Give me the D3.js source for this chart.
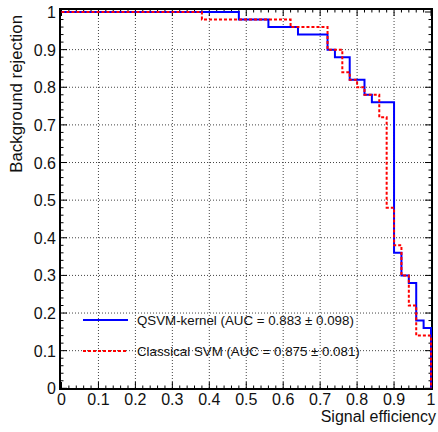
<!DOCTYPE html>
<html>
<head>
<meta charset="UTF-8">
<script src="https://d3js.org/d3.v7.min.js"></script>
<style>
  body { margin: 0; background: #fff; }
  text { font-family: "Liberation Sans", Arial, sans-serif; fill: #111; }
</style>
</head>
<body>
<div id="chart"></div>
<script>
// ROC points: signal efficiency where the step happens, background rejection after it
const qsvmEff = [0, 0.48, 0.56, 0.64, 0.72, 0.74, 0.78, 0.82, 0.84, 0.90, 0.92, 0.94, 0.96, 0.98, 1.0];
const qsvmRej = [1, 0.98, 0.96, 0.94, 0.90, 0.88, 0.82, 0.78, 0.76, 0.36, 0.30, 0.28, 0.18, 0.16, 0];
const svmEff = [0, 0.38, 0.62, 0.72, 0.76, 0.78, 0.80, 0.82, 0.86, 0.88, 0.90, 0.92, 0.94, 0.96, 1.0];
const svmRej = [1, 0.98, 0.96, 0.90, 0.84, 0.82, 0.80, 0.78, 0.72, 0.48, 0.38, 0.30, 0.22, 0.14, 0];
const majorTicks = [0, 0.1, 0.2, 0.3, 0.4, 0.5, 0.6, 0.7, 0.8, 0.9, 1];
const legendLabels = ["QSVM-kernel (AUC = 0.883 \u00b1 0.098)", "Classical SVM (AUC = 0.875 \u00b1 0.081)"];

const W = 438, H = 432;
const fL = 60, fR = 432, fT = 9, fB = 389;

const svg = d3.select("#chart").append("svg")
  .attr("width", W).attr("height", H);

const x = d3.scaleLinear().domain([0, 1]).range([61.5, 431]);
const y = d3.scaleLinear().domain([0, 1]).range([388.3, 12]);

const minorTicks = d3.range(0, 51).map(i => i / 50);

// grid
const grid = svg.append("g").attr("stroke", "#444").attr("stroke-width", 1)
  .attr("stroke-dasharray", "1,2");
majorTicks.slice(1, -1).forEach(t => {
  grid.append("line").attr("x1", x(t)).attr("x2", x(t)).attr("y1", fT).attr("y2", fB);
  grid.append("line").attr("x1", fL).attr("x2", fR).attr("y1", y(t)).attr("y2", y(t));
});

// ticks (inward on all four sides)
const ticks = svg.append("g").attr("stroke", "#000").attr("stroke-width", 1);
minorTicks.forEach((t, i) => {
  const len = i % 5 === 0 ? 7 : 3.5;
  ticks.append("line").attr("x1", x(t)).attr("x2", x(t)).attr("y1", fB).attr("y2", fB - len);
  ticks.append("line").attr("x1", x(t)).attr("x2", x(t)).attr("y1", fT).attr("y2", fT + len);
  ticks.append("line").attr("x1", fL).attr("x2", fL + len).attr("y1", y(t)).attr("y2", y(t));
  ticks.append("line").attr("x1", fR).attr("x2", fR - len).attr("y1", y(t)).attr("y2", y(t));
});

// frame
svg.append("rect").attr("x", fL).attr("y", fT)
  .attr("width", fR - fL).attr("height", fB - fT)
  .attr("fill", "none").attr("stroke", "#000").attr("stroke-width", 2);

// tick labels
const fmt = d => d === 0 ? "0" : d === 1 ? "1" : d3.format(".1f")(d);
svg.append("g").selectAll("text").data(majorTicks).join("text")
  .attr("x", d => x(d)).attr("y", 405)
  .attr("text-anchor", "middle").style("font-size", "16px")
  .text(fmt);
svg.append("g").selectAll("text").data(majorTicks).join("text")
  .attr("x", 56).attr("y", d => y(d) + 6)
  .attr("text-anchor", "end").style("font-size", "16px")
  .text(fmt);

// axis titles
svg.append("text").attr("x", 436).attr("y", 422)
  .attr("text-anchor", "end").style("font-size", "16px")
  .text("Signal efficiency");
svg.append("text").attr("transform", "translate(22,15) rotate(-90)")
  .attr("text-anchor", "end").style("font-size", "16.8px")
  .text("Background rejection");

// curves
const line = d3.line().x(d => x(d[0])).y(d => y(d[1])).curve(d3.curveStepAfter);
const qsvm = qsvmEff.map((e, i) => [e, qsvmRej[i]]);
const svm = svmEff.map((e, i) => [e, svmRej[i]]);

svg.append("path").datum(qsvm).attr("d", line)
  .attr("fill", "none").attr("stroke", "#0000ff").attr("stroke-width", 2);
svg.append("path").datum(svm).attr("d", line)
  .attr("fill", "none").attr("stroke", "#ff0000").attr("stroke-width", 2)
  .attr("stroke-dasharray", "3,2");

// legend
const legend = svg.append("g");
legend.append("line").attr("x1", 83).attr("x2", 128).attr("y1", 320).attr("y2", 320)
  .attr("stroke", "#0000ff").attr("stroke-width", 2);
legend.append("line").attr("x1", 83).attr("x2", 128).attr("y1", 351).attr("y2", 351)
  .attr("stroke", "#ff0000").attr("stroke-width", 2).attr("stroke-dasharray", "3,2");
legend.append("text").attr("x", 137).attr("y", 324.5).style("font-size", "13.3px").text(legendLabels[0]);
legend.append("text").attr("x", 137).attr("y", 355.5).style("font-size", "13.3px").text(legendLabels[1]);
</script>
</body>
</html>
